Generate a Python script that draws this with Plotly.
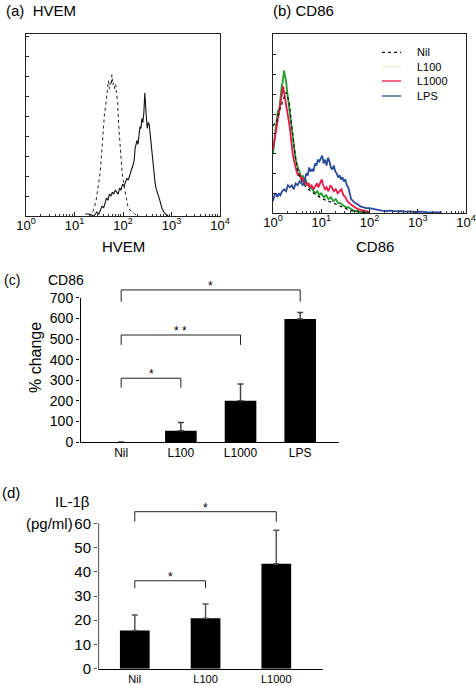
import plotly.graph_objects as go

FONT = "Liberation Sans, Arial, Helvetica, sans-serif"

# ---------------- Panel (a) HVEM histogram (x in log10 units of intensity) ----------
hvem_iso_log = [1.30, 1.36, 1.40, 1.44, 1.47, 1.49, 1.52, 1.54, 1.56, 1.58,
                1.60, 1.62, 1.64, 1.66, 1.68, 1.70, 1.72, 1.74, 1.76, 1.77,
                1.79, 1.81, 1.83, 1.85, 1.87, 1.89, 1.91, 1.92, 1.94, 1.96,
                1.98, 2.01, 2.04, 2.07, 2.10, 2.14, 2.18, 2.24, 2.30]
hvem_iso_count = [0, 1, 4, 7, 12, 15, 20, 25, 33, 41,
                  45, 52, 55, 60, 62, 68, 64, 67, 66, 71,
                  66, 67, 64, 66, 61, 57, 46, 42, 35, 27,
                  22, 17, 13, 9, 5, 3, 2, 1, 0]
hvem_log = [1.22, 1.30, 1.40, 1.46, 1.50, 1.54, 1.57, 1.60, 1.63, 1.66,
            1.69, 1.72, 1.75, 1.78, 1.81, 1.84, 1.87, 1.90, 1.93, 1.96,
            1.99, 2.02, 2.05, 2.08, 2.11, 2.14, 2.17, 2.20, 2.23, 2.25,
            2.27, 2.29, 2.31, 2.33, 2.35, 2.37, 2.39, 2.41, 2.43, 2.45,
            2.46, 2.48, 2.50, 2.52, 2.54, 2.56, 2.58, 2.60, 2.62, 2.64,
            2.66, 2.68, 2.71, 2.74, 2.77, 2.80, 2.84, 2.88, 2.93]
hvem_count = [1, 1, 0, 2, 1, 3, 5, 4, 7, 9,
              8, 11, 10, 12, 11, 13, 12, 11, 14, 13,
              16, 15, 17, 19, 18, 21, 23, 25, 28, 34,
              37, 38, 36, 42, 45, 44, 49, 47, 52, 62,
              55, 50, 44, 47, 46, 41, 35, 33, 27, 20,
              17, 14, 12, 9, 7, 4, 2, 1, 0]

# ---------------- Panel (b) CD86 histograms -----------------------------------------
cd86_l100_log = [0.00, 0.02, 0.04, 0.06, 0.08, 0.10, 0.12, 0.14, 0.16, 0.18,
                 0.20, 0.22, 0.23, 0.25, 0.27, 0.29, 0.31, 0.33, 0.35, 0.37,
                 0.39, 0.41, 0.43, 0.45, 0.47, 0.50, 0.53, 0.56, 0.59, 0.62,
                 0.65, 0.68, 0.71, 0.74, 0.77, 0.80, 0.84, 0.88, 0.92, 0.96,
                 1.00, 1.05, 1.10, 1.15, 1.20, 1.25, 1.30, 1.35, 1.40, 1.45,
                 1.50, 1.56, 1.62, 1.68, 1.75, 1.82, 1.90, 2.00]
cd86_l100_count = [30, 36, 40, 44, 47, 52, 50, 56, 60, 64,
                   66, 70, 72, 69, 67, 62, 58, 55, 49, 45,
                   40, 36, 33, 29, 27, 24, 22, 20, 18, 19,
                   16, 17, 14, 15, 12, 13, 11, 10, 11, 9,
                   10, 8, 9, 7, 8, 6, 7, 5, 5, 4,
                   3, 3, 2, 1, 1, 0.5, 0.5, 0]
cd86_nil_log = [0.00, 0.03, 0.06, 0.09, 0.12, 0.15, 0.18, 0.21, 0.24, 0.27,
                0.29, 0.31, 0.34, 0.37, 0.40, 0.43, 0.46, 0.49, 0.52, 0.56,
                0.60, 0.64, 0.68, 0.73, 0.78, 0.84, 0.90, 0.97, 1.05, 1.13,
                1.21, 1.30, 1.39, 1.48, 1.58, 1.70, 1.85, 2.00]
cd86_nil_count = [44, 45, 45, 48, 51, 53, 55, 57, 59, 61,
                  60, 58, 55, 48, 41, 35, 29, 25, 20, 18,
                  16, 15, 13, 12, 11, 10, 9, 8, 7, 6,
                  5.5, 4.5, 3.5, 2.5, 1.5, 0.8, 0.3, 0]
cd86_l1000_log = [0.00, 0.02, 0.04, 0.06, 0.08, 0.10, 0.12, 0.14, 0.16, 0.18,
                  0.20, 0.21, 0.23, 0.25, 0.27, 0.29, 0.31, 0.33, 0.35, 0.37,
                  0.39, 0.41, 0.43, 0.46, 0.49, 0.52, 0.55, 0.58, 0.61, 0.64,
                  0.67, 0.70, 0.73, 0.76, 0.80, 0.84, 0.88, 0.91, 0.94, 0.97,
                  1.01, 1.04, 1.08, 1.11, 1.15, 1.19, 1.22, 1.26, 1.30, 1.34,
                  1.38, 1.42, 1.46, 1.50, 1.54, 1.58, 1.63, 1.69, 1.76, 1.84,
                  1.92, 2.01]
cd86_l1000_count = [32, 35, 38, 42, 44, 48, 52, 55, 57, 60,
                    62, 64, 61, 58, 55, 52, 50, 46, 43, 38,
                    33, 30, 27, 23, 21, 19, 20, 17, 18, 15,
                    16, 14, 15, 13, 14, 12, 14, 15, 13, 15,
                    17, 14, 12, 13, 11, 14, 13, 11, 12, 10,
                    11, 12, 9, 8, 6, 5, 4, 3, 2, 1.5,
                    0.8, 0.4]
cd86_lps_log = [0.00, 0.03, 0.06, 0.09, 0.12, 0.15, 0.19, 0.23, 0.27, 0.31,
                0.35, 0.39, 0.43, 0.47, 0.51, 0.55, 0.59, 0.63, 0.66, 0.69,
                0.72, 0.75, 0.78, 0.81, 0.84, 0.87, 0.90, 0.93, 0.96, 0.99,
                1.02, 1.05, 1.08, 1.11, 1.14, 1.17, 1.20, 1.23, 1.26, 1.29,
                1.32, 1.35, 1.38, 1.41, 1.44, 1.47, 1.50, 1.53, 1.56, 1.59,
                1.62, 1.66, 1.70, 1.75, 1.80, 1.86, 1.93, 2.00, 2.08, 2.16,
                2.25, 2.35, 2.45, 2.55, 2.65, 2.75, 2.85, 2.95, 3.05, 3.20,
                3.35, 3.50]
cd86_lps_count = [6, 9, 10, 8, 10, 9, 11, 12, 11, 14,
                  13, 14, 12, 15, 14, 16, 15, 14, 17, 20,
                  19, 23, 21, 22, 21, 25, 24, 27, 26, 28,
                  29, 25, 27, 24, 28, 26, 23, 22, 24, 21,
                  20, 18, 19, 17, 18, 16, 17, 14, 13, 10,
                  7, 6, 5, 4.5, 3.5, 3, 2.5, 2.5, 2, 1.5,
                  1.2, 1, 1.2, 0.8, 1, 0.7, 0.8, 0.5, 0.7, 0.4,
                  0.5, 0.3]

hist_tickvals = [1, 10, 100, 1000, 10000]
hist_ticktext = ["10<sup>0</sup>", "10<sup>1</sup>", "10<sup>2</sup>",
                 "10<sup>3</sup>", "10<sup>4</sup>"]

# ---------------- Panel (c) CD86 % change -------------------------------------------
c_categories = ["Nil", "L100", "L1000", "LPS"]
c_values = [0, 55, 200, 598]
c_errors = [None, 40, 82, 32]
c_yticks = [0, 100, 200, 300, 400, 500, 600, 700]
c_br_left = [0, 0, 0]
c_br_right = [1, 2, 3]
c_br_top = [310, 520, 739]
c_br_end = [264, 472, 682]
c_star = ["*", "* *", "*"]

# ---------------- Panel (d) IL-1beta -------------------------------------------------
d_categories = ["Nil", "L100", "L1000"]
d_values = [15.8, 20.8, 43.3]
d_errors = [6.4, 5.9, 13.8]
d_yticks = [0, 10, 20, 30, 40, 50, 60]
d_br_left = [0, 0]
d_br_right = [1, 2]
d_br_top = [36.3, 64.8]
d_br_end = [33.2, 60.7]
d_star = ["*", "*"]

GREEN = "#1f9e2a"
RED = "#e8174a"
BLUE = "#2a4d9b"

W, H = 476, 686


def px(x):
    return x / W


def py(y):
    return 1 - y / H


fig = go.Figure()

# (a)
fig.add_trace(go.Scatter(x=[10 ** v for v in hvem_iso_log], y=hvem_iso_count, mode="lines",
                         line=dict(color="#222", width=1, dash="dot"), xaxis="x", yaxis="y"))
fig.add_trace(go.Scatter(x=[10 ** v for v in hvem_log], y=hvem_count, mode="lines",
                         line=dict(color="#111", width=1.1), xaxis="x", yaxis="y"))

# (b)
fig.add_trace(go.Scatter(x=[10 ** v for v in cd86_l100_log], y=cd86_l100_count, mode="lines",
                         line=dict(color=GREEN, width=1.8), xaxis="x2", yaxis="y2"))
fig.add_trace(go.Scatter(x=[10 ** v for v in cd86_l1000_log], y=cd86_l1000_count, mode="lines",
                         line=dict(color=RED, width=1.8), xaxis="x2", yaxis="y2"))
fig.add_trace(go.Scatter(x=[10 ** v for v in cd86_nil_log], y=cd86_nil_count, mode="lines",
                         line=dict(color="#111", width=1.3, dash="dot"), xaxis="x2", yaxis="y2"))
fig.add_trace(go.Scatter(x=[10 ** v for v in cd86_lps_log], y=cd86_lps_count, mode="lines",
                         line=dict(color=BLUE, width=1.8), xaxis="x2", yaxis="y2"))

# (c)
c_xrange = [-0.69, 3.65]
c_yrange = [0, 800]
fig.add_trace(go.Bar(x=list(range(len(c_categories))), y=c_values, width=0.53,
                     marker=dict(color="black", line=dict(width=0)),
                     error_y=dict(type="data", symmetric=False, array=c_errors,
                                  arrayminus=[None if e is None else 0 for e in c_errors],
                                  color="#444", thickness=1.5, width=3),
                     xaxis="x3", yaxis="y3"))
c_eps = (c_xrange[1] - c_xrange[0]) * 0.5 / 259
fig.add_trace(go.Scatter(x=[c_xrange[0] + c_eps] * 2, y=[c_yticks[0], c_yticks[-1]], mode="lines",
                         line=dict(color="black", width=1), xaxis="x3", yaxis="y3"))
for l, r, t, e in zip(c_br_left, c_br_right, c_br_top, c_br_end):
    fig.add_trace(go.Scatter(x=[l, l, r, r], y=[e, t, t, e], mode="lines",
                             line=dict(color="#222", width=1), xaxis="x3", yaxis="y3"))

# (d)
d_xrange = [-0.52, 2.66]
d_yrange = [0, 70]
fig.add_trace(go.Bar(x=list(range(len(d_categories))), y=d_values, width=0.42,
                     marker=dict(color="black", line=dict(width=0)),
                     error_y=dict(type="data", symmetric=False, array=d_errors,
                                  arrayminus=[0] * len(d_errors), color="#555",
                                  thickness=1.5, width=3),
                     xaxis="x4", yaxis="y4"))
d_eps = (d_xrange[1] - d_xrange[0]) * 0.5 / 225
fig.add_trace(go.Scatter(x=[d_xrange[0] + d_eps] * 2, y=[d_yticks[0], d_yticks[-1]], mode="lines",
                         line=dict(color="#666", width=1.3), xaxis="x4", yaxis="y4"))
for l, r, t, e in zip(d_br_left, d_br_right, d_br_top, d_br_end):
    fig.add_trace(go.Scatter(x=[l, l, r, r], y=[e, t, t, e], mode="lines",
                             line=dict(color="#222", width=1), xaxis="x4", yaxis="y4"))

annotations = []
# star annotations
for l, r, t, s in zip(c_br_left, c_br_right, c_br_top, c_star):
    annotations.append(dict(x=(l + r) / 2, y=t, xref="x3", yref="y3", text=s, showarrow=False,
                            yanchor="bottom", yshift=-5, font=dict(size=12)))
for l, r, t, s in zip(d_br_left, d_br_right, d_br_top, d_star):
    annotations.append(dict(x=(l + r) / 2, y=t, xref="x4", yref="y4", text=s, showarrow=False,
                            yanchor="bottom", yshift=-5, font=dict(size=12)))

# panel labels and titles
annotations += [
    dict(x=px(4), y=py(11), xref="paper", yref="paper", text="(a)  HVEM", showarrow=False,
         xanchor="left", yanchor="middle", font=dict(size=15)),
    dict(x=px(271), y=py(10), xref="paper", yref="paper", text="(b) CD86", showarrow=False,
         xanchor="left", yanchor="middle", font=dict(size=15)),
    dict(x=px(123), y=py(247), xref="paper", yref="paper", text="HVEM", showarrow=False,
         xanchor="center", yanchor="middle", font=dict(size=15)),
    dict(x=px(375), y=py(247), xref="paper", yref="paper", text="CD86", showarrow=False,
         xanchor="center", yanchor="middle", font=dict(size=15)),
    dict(x=px(2), y=py(280), xref="paper", yref="paper", text="(c)", showarrow=False,
         xanchor="left", yanchor="middle", font=dict(size=14)),
    dict(x=px(46), y=py(280), xref="paper", yref="paper", text="CD86", showarrow=False,
         xanchor="left", yanchor="middle", font=dict(size=14)),
    dict(x=px(35), y=py(358), xref="paper", yref="paper", text="% change", showarrow=False,
         textangle=-90, xanchor="center", yanchor="middle", font=dict(size=16)),
    dict(x=px(0), y=py(492), xref="paper", yref="paper", text="(d)", showarrow=False,
         xanchor="left", yanchor="middle", font=dict(size=15)),
    dict(x=px(92), y=py(501), xref="paper", yref="paper", text="IL-1β", showarrow=False,
         xanchor="right", yanchor="middle", font=dict(size=15)),
    dict(x=px(75), y=py(523), xref="paper", yref="paper", text="(pg/ml)", showarrow=False,
         xanchor="right", yanchor="middle", font=dict(size=15)),
]

# manual legend for panel (b)
legend_names = ["Nil", "L100", "L1000", "LPS"]
legend_colors = ["#111", "#efefc4", RED, BLUE]
legend_dash = ["dot", "solid", "solid", "solid"]
legend_rows = [52.3, 66.7, 81, 96]
shapes = []
for name, col, dsh, yy in zip(legend_names, legend_colors, legend_dash, legend_rows):
    shapes.append(dict(type="line", xref="paper", yref="paper", x0=px(382), x1=px(401),
                       y0=py(yy), y1=py(yy), line=dict(color=col, width=1.3, dash=dsh)))
    annotations.append(dict(x=px(415), y=py(yy), xref="paper", yref="paper", text=name,
                            showarrow=False, xanchor="left", yanchor="middle",
                            font=dict(size=11)))

hist_x_common = dict(type="log", range=[0, 4], tickmode="array", tickvals=hist_tickvals,
                     ticktext=hist_ticktext, ticks="inside", ticklen=4, tickcolor="#222",
                     showline=True, linecolor="#222", linewidth=1, mirror=True,
                     showgrid=False, zeroline=False, tickfont=dict(size=13), automargin=False,
                     ticklabelstandoff=-3,
                     minor=dict(ticks="inside", ticklen=2.5, dtick="D1", tickcolor="#333",
                                showgrid=False))
hist_y_common = dict(dtick=10, tick0=0, ticks="inside", ticklen=3, tickcolor="#222",
                     showticklabels=False, showline=True, linecolor="#222", linewidth=1,
                     mirror=True, showgrid=False, zeroline=False, automargin=False)

fig.update_layout(
    width=W, height=H, margin=dict(l=0, r=0, t=0, b=0, pad=0, autoexpand=False),
    paper_bgcolor="white", plot_bgcolor="white", showlegend=False,
    font=dict(family=FONT, color="black"),
    xaxis=dict(domain=[px(26), px(220)], anchor="y", **hist_x_common),
    yaxis=dict(domain=[py(216), py(34)], anchor="x", range=[0, 91.5], **hist_y_common),
    xaxis2=dict(domain=[px(273), px(466)], anchor="y2", **hist_x_common),
    yaxis2=dict(domain=[py(213), py(34)], anchor="x2", range=[0, 90.5], **hist_y_common),
    xaxis3=dict(domain=[px(80), px(339)], anchor="y3", range=c_xrange, tickmode="array",
                tickvals=list(range(len(c_categories))), ticktext=c_categories, ticks="",
                showline=True, linecolor="black", linewidth=1, showgrid=False, zeroline=False,
                tickfont=dict(size=12), automargin=False),
    yaxis3=dict(domain=[py(442), py(277.4)], anchor="x3", range=c_yrange, tickmode="array",
                tickvals=c_yticks, ticks="outside", ticklen=3, tickcolor="black",
                showline=False, showgrid=False, zeroline=False, tickfont=dict(size=14),
                automargin=False),
    xaxis4=dict(domain=[px(98), px(323)], anchor="y4", range=d_xrange, tickmode="array",
                tickvals=list(range(len(d_categories))), ticktext=d_categories, ticks="",
                showline=True, linecolor="black", linewidth=1, showgrid=False, zeroline=False,
                tickfont=dict(size=11), automargin=False),
    yaxis4=dict(domain=[py(668.7), py(499.1)], anchor="x4", range=d_yrange, tickmode="array",
                tickvals=d_yticks, ticks="outside", ticklen=3, tickcolor="#555",
                showline=False, showgrid=False, zeroline=False, tickfont=dict(size=15),
                automargin=False),
    annotations=annotations,
    shapes=shapes,
)

# remove the browser's default 8px page margin so the figure sits at the window origin
fig.write_html("out.html", config={"displayModeBar": False},
               post_script="document.body.style.margin='0';")
